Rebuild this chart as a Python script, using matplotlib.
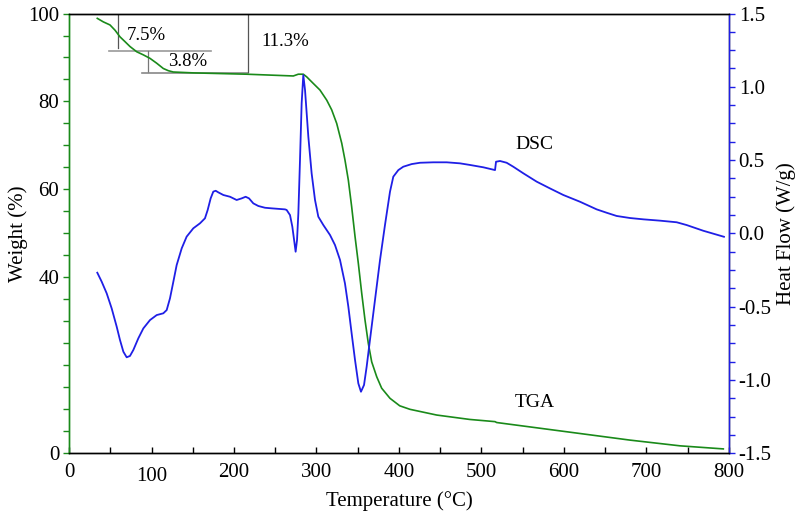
import numpy as np
import matplotlib
matplotlib.use('Agg')
import matplotlib.pyplot as plt
from matplotlib.ticker import MultipleLocator, FixedLocator
import matplotlib.transforms as mtransforms

# TGA curve (temperature °C, weight %)
tga_temp = [34.3, 41.6, 49.7, 55.8, 61.8, 67.9, 73.9, 82.1, 90.1, 98.2, 106.3,
            114.3, 120.4, 126.4, 150.7, 215.4, 271.9, 277.9, 284.0, 288.1, 296.1,
            304.2, 312.4, 318.4, 324.5, 330.6, 334.5, 338.6, 342.6, 346.7, 350.7,
            354.8, 358.8, 362.8, 366.9, 373.0, 379.0, 389.1, 400.9, 413.3, 445.7,
            485.7, 516.4, 518.4, 558.8, 619.4, 680.0, 740.6, 793.1]
tga_weight = [98.9, 98.1, 97.4, 96.2, 94.7, 93.6, 92.5, 91.3, 90.6, 89.8, 88.7,
              87.5, 87.0, 86.7, 86.5, 86.2, 85.8, 86.2, 86.2, 85.6, 84.1,
              82.6, 80.3, 78.1, 75.0, 70.5, 66.7, 62.1, 56.1, 49.3, 43.2,
              36.4, 30.3, 25.0, 20.8, 17.4, 14.8, 12.5, 10.8, 10.0, 8.7,
              7.7, 7.2, 7.0, 6.0, 4.5, 3.0, 1.7, 1.0]

# DSC curve (temperature °C, heat flow W/g)
dsc_temp = [34.3, 39.6, 45.7, 51.7, 57.8, 61.8, 65.9, 69.9, 73.9, 78.0, 84.0,
            90.1, 98.2, 106.3, 114.3, 118.4, 122.4, 126.5, 130.5, 136.6, 142.6,
            150.7, 158.8, 164.8, 168.1, 171.7, 174.9, 177.8, 181.0, 187.1, 195.2,
            203.2, 209.3, 214.1, 218.2, 223.4, 229.5, 237.6, 245.7, 261.8, 263.8,
            267.9, 270.7, 273.1, 274.7, 276.4, 278.0, 280.0, 282.0, 284.0, 286.1,
            290.1, 294.1, 298.2, 302.2, 308.3, 316.4, 322.4, 328.5, 334.5, 338.6,
            342.6, 346.7, 350.7, 353.9, 357.6, 360.8, 364.8, 370.9, 377.0, 383.0,
            389.1, 393.1, 399.2, 405.2, 415.4, 425.5, 441.6, 457.8, 473.9, 486.0,
            502.2, 516.4, 517.6, 522.4, 530.5, 538.5, 550.7, 566.9, 583.0, 599.2,
            619.4, 639.6, 651.7, 663.8, 680.0, 696.2, 716.4, 736.6, 748.7, 768.9,
            793.9]
dsc_flow = [-0.268, -0.329, -0.409, -0.511, -0.636, -0.727, -0.807, -0.845, -0.836, -0.795, -0.716,
            -0.648, -0.591, -0.557, -0.545, -0.523, -0.443, -0.329, -0.216, -0.102, -0.022,
            0.035, 0.069, 0.103, 0.160, 0.239, 0.285, 0.291, 0.280, 0.262, 0.250,
            0.228, 0.239, 0.250, 0.239, 0.205, 0.187, 0.175, 0.171, 0.164, 0.160,
            0.125, 0.046, -0.056, -0.125, -0.045, 0.137, 0.501, 0.887, 1.080, 0.978,
            0.660, 0.410, 0.228, 0.114, 0.057, -0.011, -0.079, -0.181, -0.341, -0.500,
            -0.682, -0.864, -1.023, -1.080, -1.034, -0.909, -0.727, -0.454, -0.181, 0.057,
            0.285, 0.387, 0.432, 0.455, 0.473, 0.482, 0.485, 0.485, 0.478, 0.467,
            0.451, 0.432, 0.489, 0.494, 0.482, 0.455, 0.410, 0.353, 0.307, 0.262,
            0.216, 0.164, 0.141, 0.119, 0.105, 0.096, 0.087, 0.076, 0.057, 0.018,
            -0.023]

# weight-loss step markers
step_labels = ['7.5%', '3.8%', '11.3%']

plt.rcParams['font.family'] = ['Liberation Serif', 'DejaVu Serif']
plt.rcParams['font.size'] = 15

fig = plt.figure(figsize=(8, 5.16), dpi=100)
ax = fig.add_axes([0.08625, 0.1215, 0.825, 0.8523])
ax2 = ax.twinx()

green = '#1a8a1a'
blue = '#1f1fe6'

ax.plot(tga_temp, tga_weight, color=green, lw=1.2, zorder=3)
ax2.plot(dsc_temp, dsc_flow, color=blue, lw=1.3)

# step annotation lines
ax.plot([59.0, 59.0], [100, 92.2], color='#555555', lw=0.9)
ax.plot([48.5, 172.0], [91.5, 91.5], color='#999999', lw=1.2)
ax.plot([95.4, 95.4], [91.5, 86.6], color='#777777', lw=0.9)
ax.plot([88.5, 217.0], [86.5, 86.5], color='#888888', lw=1.2)
ax.plot([216.6, 216.6], [100, 86.6], color='#555555', lw=0.9)

ax.text(69.5, 95.1, step_labels[0], ha='left', va='center', fontsize=13.5)
ax.text(120.4, 89.0, step_labels[1], ha='left', va='center', fontsize=13.5)
ax.text(233.6, 93.6, step_labels[2], ha='left', va='center', fontsize=13.5)
ax.text(540.6, 70.3, 'DSC', ha='left', va='center', fontsize=14)
ax.text(540.6, 11.5, 'TGA', ha='left', va='center', fontsize=14)

ax.set_xlim(0, 800)
ax.set_ylim(0, 100)
ax2.set_ylim(-1.5, 1.5)

ax.xaxis.set_major_locator(MultipleLocator(100))
ax.xaxis.set_minor_locator(MultipleLocator(50))
ax.yaxis.set_major_locator(FixedLocator([0, 20, 40, 60, 80, 100]))
ax.yaxis.set_minor_locator(MultipleLocator(5))
ax.set_yticklabels(['0', '', '40', '60', '80', '100'])
ax2.yaxis.set_major_locator(MultipleLocator(0.5))
ax2.yaxis.set_minor_locator(MultipleLocator(0.125))
ax2.set_yticklabels(['%.1f' % v for v in ax2.get_yticks()])

ax.tick_params(axis='x', which='both', direction='in', length=4, width=1, pad=7)
ax.tick_params(axis='y', which='both', direction='out', length=4, width=1,
               color=green, pad=3)
ax2.tick_params(axis='y', which='both', direction='out', length=4, width=1,
                color=blue, pad=3)

ax.spines['left'].set_color(green)
ax2.spines['left'].set_color(green)
ax2.spines['right'].set_color(blue)
for a in (ax, ax2):
    for sp in a.spines.values():
        sp.set_linewidth(1.0)

# the "100" label sits a bit lower in the original
for lab in ax.get_xticklabels():
    if lab.get_text() == '100':
        lab.set_transform(lab.get_transform() +
                          mtransforms.ScaledTranslation(0, -4 / 100, fig.dpi_scale_trans))

ax.set_xlabel('Temperature (°C)', labelpad=4)
ax.set_ylabel('Weight (%)', labelpad=0)
ax2.set_ylabel('Heat Flow (W/g)', labelpad=3)

fig.savefig('out.png', dpi=100)
